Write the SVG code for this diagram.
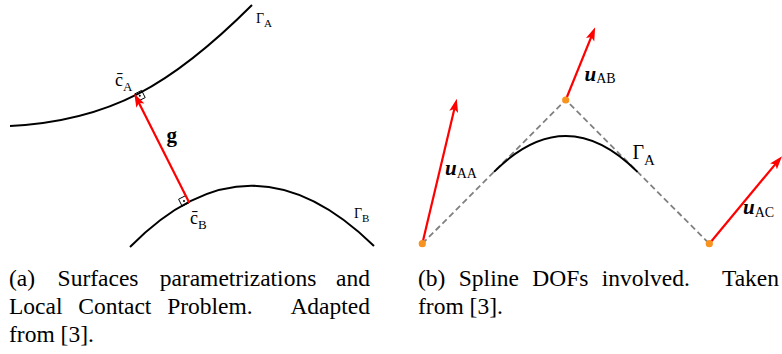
<svg xmlns="http://www.w3.org/2000/svg" width="782" height="354" viewBox="0 0 782 354">
  <style>
    .curve { fill: none; stroke: #000; stroke-width: 2; }
    .dash { fill: none; stroke: #808080; stroke-width: 1.8; stroke-dasharray: 6 3.5; }
    .vec { fill: none; stroke: #ff0000; stroke-width: 2.2; marker-end: url(#head); }
    .pt { fill: #f7931e; }
    .ra { fill: none; stroke: #000; stroke-width: 1; }
    text { font-family: 'Liberation Serif', 'DejaVu Serif', 'Noto Serif', serif; fill: #000; }
    .vlbl { font-weight: bold; font-style: italic; }
    .sub { font-weight: normal; font-style: normal; }
    .cap { font-size: 23.5px; }
  </style>
  <defs>
    <marker id="head" markerUnits="userSpaceOnUse" markerWidth="14" markerHeight="10" viewBox="0 0 14 10" refX="7" refY="5" orient="auto">
      <path d="M0,0.5 L13.5,5 L0,9.5 L3,5 z" fill="#ff0000"/>
    </marker>
  </defs>

  <!-- (a) Surfaces -->
  <g id="gammaA-left">
    <path class="curve" d="M10,126 C110,121 172,85 252,5"/>
    <text x="256" y="22.7" font-size="14">Γ<tspan font-size="11" dy="4">A</tspan></text>
  </g>
  <g id="gammaB-left">
    <path class="curve" d="M130,247 Q250,125 374,246"/>
    <text x="354" y="217.5" font-size="14">Γ<tspan font-size="11" dy="4">B</tspan></text>
  </g>
  <g id="cA">
    <path class="ra" d="M134.5,94 L141.6,90.4 L145.2,97.6 L138.1,101.1"/>
    <circle cx="139.8" cy="95.7" r="1" fill="#000"/>
    <text x="115" y="85.5" font-size="18">c&#x304;<tspan font-size="13" dy="5">A</tspan></text>
  </g>
  <g id="cB">
    <path class="ra" d="M189.3,202.7 L182.2,206.3 L178.6,199.2 L185.7,195.6"/>
    <circle cx="184" cy="201" r="1" fill="#000"/>
    <text x="190" y="223.5" font-size="18">c&#x304;<tspan font-size="13" dy="5">B</tspan></text>
  </g>
  <g id="g-label">
    <text x="166.5" y="141.5" font-size="21" font-weight="bold">g</text>
  </g>

  <!-- (b) Spline -->
  <g id="control-polygon">
    <path class="dash" d="M422.3,243.7 L565.7,100 L709.3,243.7"/>
  </g>
  <g id="gammaA-right">
    <path class="curve" d="M494,171.9 Q565.7,100 637.5,171.9"/>
    <text x="632.5" y="158.5" font-size="20">Γ<tspan font-size="15" dy="6">A</tspan></text>
  </g>

  <g id="connectors">
    <line class="vec" x1="189.3" y1="202.7" x2="137.2" y2="99.4"/>
    <line class="vec" x1="422.3" y1="243.7" x2="455.3" y2="105.1"/>
    <line class="vec" x1="565.7" y1="100" x2="592.7" y2="33.3"/>
    <line class="vec" x1="709.3" y1="243.7" x2="777.9" y2="161.1"/>
  </g>

  <g id="pAA">
    <circle class="pt" cx="422.3" cy="243.7" r="3.6"/>
    <text class="vlbl" x="445" y="175" font-size="21">u<tspan class="sub" font-size="14" dy="3.3">AA</tspan></text>
  </g>
  <g id="pAB">
    <circle class="pt" cx="565.7" cy="100" r="3.6"/>
    <text class="vlbl" x="584.5" y="80.5" font-size="21">u<tspan class="sub" font-size="14" dy="2.7">AB</tspan></text>
  </g>
  <g id="pAC">
    <circle class="pt" cx="709.3" cy="243.7" r="3.6"/>
    <text class="vlbl" x="743" y="213.5" font-size="21">u<tspan class="sub" font-size="14" dy="3">AC</tspan></text>
  </g>

  <!-- captions -->
  <g id="caption-a">
    <text class="cap" y="285.5"><tspan x="9">(a)</tspan> <tspan x="57.6">Surfaces</tspan> <tspan x="159.7">parametrizations</tspan> <tspan x="370" text-anchor="end">and</tspan></text>
    <text class="cap" y="313.5"><tspan x="9">Local</tspan> <tspan x="78.3">Contact</tspan> <tspan x="167.2">Problem.</tspan> <tspan x="370" text-anchor="end">Adapted</tspan></text>
    <text class="cap" y="341.5" x="9">from [3].</text>
  </g>
  <g id="caption-b">
    <text class="cap" y="285.5"><tspan x="418">(b)</tspan> <tspan x="458.8">Spline</tspan> <tspan x="532.3">DOFs</tspan> <tspan x="601.8">involved.</tspan> <tspan x="779" text-anchor="end">Taken</tspan></text>
    <text class="cap" y="313.5" x="418">from [3].</text>
  </g>
</svg>
